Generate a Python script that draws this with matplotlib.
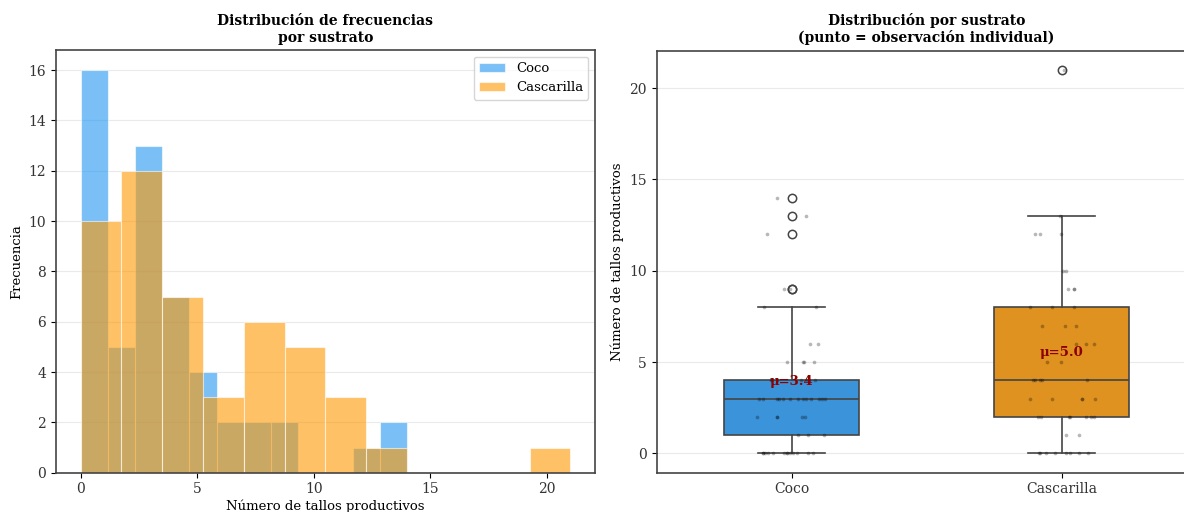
import numpy as np
import matplotlib
matplotlib.use('Agg')
import matplotlib.pyplot as plt

plt.rcParams['font.family'] = ['DejaVu Serif']

# observed values and how many plants had each value
coco_vals = [0, 1, 2, 3, 4, 5, 6, 8, 9, 12, 13, 14]
coco_counts = [13, 3, 5, 13, 7, 4, 2, 2, 2, 1, 1, 1]
cas_vals = [0, 1, 2, 3, 4, 5, 6, 7, 8, 9, 10, 12, 13, 21]
cas_counts = [8, 2, 7, 5, 5, 2, 3, 3, 3, 3, 2, 3, 1, 1]

groups = ['Coco', 'Cascarilla']
hist_colors = ['#2196F3', '#FF9800']
box_colors = ['#3B93D9', '#DF9220']

coco = np.repeat(coco_vals, coco_counts)
cas = np.repeat(cas_vals, cas_counts)
data = [coco, cas]

fig = plt.figure(figsize=(11.84, 5.12), dpi=100)
ax1 = fig.add_axes([0.0473, 0.0768, 0.4552, 0.8256])
ax2 = fig.add_axes([0.5546, 0.0768, 0.4561, 0.8242])

spine_col = '#444444'

# --- histogram ---
for d, name, c in zip(data, groups, hist_colors):
	ax1.hist(d, bins=12, color=c, alpha=0.6, edgecolor='white', linewidth=0.8, label=name)
ax1.set_title('Distribución de frecuencias\npor sustrato', fontsize=10, fontweight='bold')
ax1.set_xlabel('Número de tallos productivos', fontsize=9.5, labelpad=2)
ax1.set_ylabel('Frecuencia', fontsize=9.5)
ax1.tick_params(labelsize=10, labelcolor='#333333')
ax1.grid(axis='y', color='#dddddd', alpha=0.6, linewidth=0.8)
ax1.set_axisbelow(True)
leg = ax1.legend(loc='upper right', fontsize=9.5)
leg.get_frame().set_edgecolor('#cccccc')

# --- boxplot + strip ---
pos = np.arange(len(groups))
bp = ax2.boxplot(data, positions=pos, widths=0.5, patch_artist=True,
	medianprops=dict(color=spine_col, linewidth=1.2),
	whiskerprops=dict(color=spine_col, linewidth=1.2),
	capprops=dict(color=spine_col, linewidth=1.2),
	boxprops=dict(edgecolor=spine_col, linewidth=1.2),
	flierprops=dict(marker='o', markerfacecolor='none', markeredgecolor=spine_col,
		markersize=6, markeredgewidth=1.1))
for patch, c in zip(bp['boxes'], box_colors):
	patch.set_facecolor(c)

rng = np.random.default_rng(3)
for i, d in enumerate(data):
	jit = rng.uniform(-0.13, 0.13, len(d))
	ax2.scatter(i + jit, d, s=7, color='black', alpha=0.28, linewidths=0, zorder=3)
	m = d.mean()
	ax2.text(i, m + 0.5, 'μ=%.1f' % m, ha='center', va='center', color='#8B0000',
		fontsize=9.5, fontweight='bold', zorder=4)

ax2.set_xticks(pos)
ax2.set_xticklabels(groups)
ax2.set_xlim(-0.5, 1.5)
ax2.set_ylim(-1.05, 22.05)
ax2.set_title('Distribución por sustrato\n(punto = observación individual)', fontsize=10, fontweight='bold')
ax2.set_ylabel('Número de tallos productivos', fontsize=9.5)
ax2.tick_params(labelsize=10, labelcolor='#333333')
ax2.grid(axis='y', color='#dddddd', alpha=0.6, linewidth=0.8)
ax2.set_axisbelow(True)

for ax in (ax1, ax2):
	for sp in ax.spines.values():
		sp.set_color(spine_col)
		sp.set_linewidth(1.2)

plt.savefig('out.png', dpi=100)
